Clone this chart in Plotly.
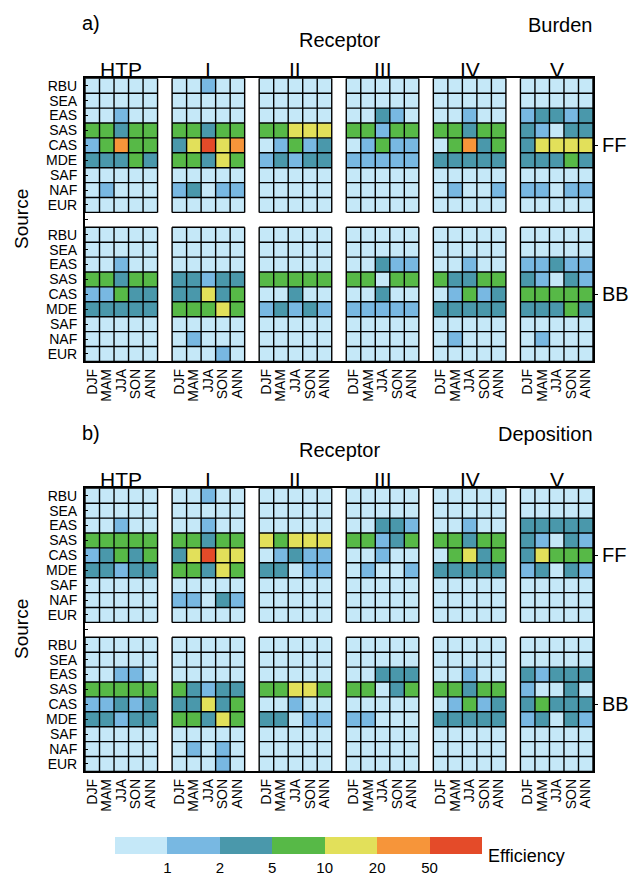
import numpy as np
import plotly.graph_objects as go

# ---------------- data ----------------
sources = ["RBU", "SEA", "EAS", "SAS", "CAS", "MDE", "SAF", "NAF", "EUR"]
receptors = ["HTP", "I", "II", "III", "IV", "V"]
seasons = ["DJF", "MAM", "JJA", "SON", "ANN"]
bounds = [1, 2, 5, 10, 20, 50]
bound_labels = ["1", "2", "5", "10", "20", "50"]
colors = ["#c5e8f8", "#78b8e2", "#4a98ab", "#57b947", "#e2e05a", "#f6953a", "#e44b29"]
# typical efficiency of each colour class
class_values = [0.5, 1.5, 3.0, 7.0, 15.0, 30.0, 70.0]

# each string: 6 receptor groups (HTP, I, II, III, IV, V) x 5 seasons, colour class per cell
burden_ff = [
    "00000 00100 00000 00000 00000 00000",  # RBU
    "00000 00000 00000 00000 00000 00000",  # SEA
    "00100 00000 00000 00210 00100 12212",  # EAS
    "33233 33233 33444 33133 33233 21022",  # SAS
    "13533 24645 01312 01311 03523 24444",  # CAS
    "22232 33243 12122 11111 22222 22232",  # MDE
    "00000 00000 00000 00000 00000 00000",  # SAF
    "01000 12011 00000 00000 01001 11011",  # NAF
    "00000 00000 00000 00000 00000 00000",  # EUR
]
burden_bb = [
    "00000 00000 00000 00000 00000 00000",
    "00000 00000 00000 00000 00000 00000",
    "00100 00000 00000 00211 00100 11211",
    "33233 22122 33333 33033 32233 21021",
    "11322 22423 00200 00200 01312 33333",
    "22222 33343 12121 11111 22222 22232",
    "00000 00000 00000 00000 00000 00000",
    "00000 01000 00000 00000 01000 01000",
    "00000 00010 00000 00000 00000 00000",
]
deposition_ff = [
    "00000 00100 00000 00000 00000 00000",
    "00000 00000 00000 00000 00000 00000",
    "00100 00100 00000 00221 00100 22222",
    "33333 33233 43444 33123 33233 21021",
    "12323 24644 01211 00100 03423 24333",
    "22122 33243 22011 01001 22222 12021",
    "00000 00000 00000 00000 00000 00000",
    "00000 11021 00000 00000 00000 00000",
    "00000 00000 00000 00000 00000 00000",
]
deposition_bb = [
    "00000 00000 00000 00000 00000 00000",
    "00000 00000 00000 00000 00000 00000",
    "00110 00000 00000 00222 00100 21222",
    "33333 32122 33443 33023 33233 10020",
    "11212 22423 00100 00000 01312 23222",
    "22122 33243 22011 11000 22222 12021",
    "00000 00000 00000 00000 00000 00000",
    "00000 01010 00000 00000 00000 00000",
    "00000 00010 00000 00000 00000 00000",
]

# ---------------- helpers ----------------
NS = len(sources)
NSEA = len(seasons)
NG = len(receptors)
NCOL = NG * (NSEA + 1) - 1
NROW = 2 * NS + 1
FONT = "Liberation Sans, Arial, sans-serif"


def efficiency(rows):
    return [[class_values[int(ch)] for ch in r.replace(" ", "")] for r in rows]


def build_z(ff, bb):
    z = [[None] * NCOL for _ in range(NROW)]
    for half, rows in enumerate([ff, bb]):
        for i, vals in enumerate(efficiency(rows)):
            r = half * (NS + 1) + i
            for g in range(NG):
                for s in range(NSEA):
                    v = vals[g * NSEA + s]
                    z[r][g * (NSEA + 1) + s] = int(np.digitize(v, bounds)) + 0.5
    return z


def grid_xy():
    xs, ys = [], []
    for half in range(2):
        r0 = half * (NS + 1)
        for g in range(NG):
            c0 = g * (NSEA + 1)
            for k in range(NSEA + 1):
                xs += [c0 - 0.5 + k, c0 - 0.5 + k, None]
                ys += [r0 - 0.5, r0 + NS - 0.5, None]
            for k in range(NS + 1):
                xs += [c0 - 0.5, c0 + NSEA - 0.5, None]
                ys += [r0 - 0.5 + k, r0 - 0.5 + k, None]
    return xs, ys


colorscale = []
for i, c in enumerate(colors):
    colorscale += [[i / len(colors), c], [(i + 1) / len(colors), c]]

W, H = 633, 876
x_left, x_right = 85, 593
panels = [
    dict(ff=burden_ff, bb=burden_bb, top=78.3, tag="a)", name="Burden"),
    dict(ff=deposition_ff, bb=deposition_bb, top=488.3, tag="b)", name="Deposition"),
]
row_h = 14.9
cb_top, cb_bottom = 837.0, 853.5

fig = go.Figure()
annotations = []
layout_axes = {}

col_x = list(range(NCOL))
row_y = list(range(NROW))
season_ticks = [g * (NSEA + 1) + s for g in range(NG) for s in range(NSEA)]
season_text = [seasons[s] for g in range(NG) for s in range(NSEA)]
row_text = sources + [""] + sources

for p, pan in enumerate(panels):
    xa = "x" if p == 0 else "x2"
    ya = "y" if p == 0 else "y2"
    yr = "y3" if p == 0 else "y4"
    top = pan["top"]
    bottom = top + NROW * row_h
    dom_y = [1 - bottom / H, 1 - top / H]

    fig.add_trace(go.Heatmap(
        z=build_z(pan["ff"], pan["bb"]), x=col_x, y=row_y,
        xaxis=xa, yaxis=ya, zmin=0, zmax=len(colors),
        colorscale=colorscale, hoverinfo="skip",
        showscale=(p == 0),
        colorbar=dict(
            orientation="h", x=115 / W, xanchor="left",
            y=1 - cb_top / H, yanchor="top",
            len=(481.7 - 115) / W, lenmode="fraction",
            thickness=cb_bottom - cb_top, thicknessmode="pixels",
            xpad=0, ypad=0, outlinewidth=0,
            tickmode="array", tickvals=list(range(1, len(colors))),
            ticktext=bound_labels, ticks="",
            tickfont=dict(size=15, family=FONT, color="black"),
        ),
    ))
    gx, gy = grid_xy()
    fig.add_trace(go.Scatter(x=gx, y=gy, mode="lines", xaxis=xa, yaxis=ya,
                             line=dict(color="black", width=1.4),
                             hoverinfo="skip", showlegend=False))
    fig.add_trace(go.Scatter(x=[0], y=[4], mode="markers", xaxis=xa, yaxis=yr,
                             marker=dict(opacity=0), hoverinfo="skip",
                             showlegend=False))

    xkey = "xaxis" if p == 0 else "xaxis2"
    ykey = "yaxis" if p == 0 else "yaxis2"
    yrkey = "yaxis3" if p == 0 else "yaxis4"
    layout_axes[xkey] = dict(
        domain=[x_left / W, x_right / W], range=[-0.5, NCOL - 0.5], anchor=ya,
        tickmode="array", tickvals=season_ticks, ticktext=season_text,
        tickangle=-90, ticks="", showgrid=False, zeroline=False,
        showline=True, mirror=True, linecolor="black", linewidth=2,
        tickfont=dict(size=14, family=FONT, color="black"),
    )
    layout_axes[ykey] = dict(
        domain=dom_y, range=[NROW - 0.5, -0.5], anchor=xa,
        tickmode="array", tickvals=row_y, ticktext=row_text,
        ticks="inside", ticklen=3, tickwidth=1, tickcolor="black",
        ticklabelstandoff=3,
        showgrid=False, zeroline=False,
        showline=True, mirror=True, linecolor="black", linewidth=2,
        tickfont=dict(size=14, family=FONT, color="black"),
    )
    layout_axes[yrkey] = dict(
        domain=dom_y, range=[NROW - 0.5, -0.5], anchor=xa, overlaying=ya,
        side="right", tickmode="array", tickvals=[4, NS + 1 + 4],
        ticktext=["FF", "BB"], ticks="outside", ticklen=4, tickcolor="black",
        showgrid=False, zeroline=False, showline=False,
        tickfont=dict(size=20, family=FONT, color="black"),
    )

    off = top - 78.3
    annotations += [
        dict(text=pan["tag"], x=80 / W, y=1 - (22.5 + off) / H, xref="paper",
             yref="paper", xanchor="left", yanchor="middle", showarrow=False,
             font=dict(size=20, family=FONT, color="black")),
        dict(text=pan["name"], x=595 / W, y=1 - (24.5 + off) / H, xref="paper",
             yref="paper", xanchor="right", yanchor="middle", showarrow=False,
             font=dict(size=20, family=FONT, color="black")),
        dict(text="Receptor", x=(x_left + x_right) / 2 / W, y=1 - (40.1 + off) / H,
             xref="paper", yref="paper", xanchor="center", yanchor="middle",
             showarrow=False, font=dict(size=20, family=FONT, color="black")),
        dict(text="Source", x=21 / W, y=1 - (219 + off) / H, xref="paper",
             yref="paper", xanchor="center", yanchor="middle", textangle=-90,
             showarrow=False, font=dict(size=19, family=FONT, color="black")),
    ]
    for g, rname in enumerate(receptors):
        annotations.append(dict(
            text=rname, x=g * (NSEA + 1) + (NSEA - 1) / 2, xref=xa,
            y=1 - (69.1 + off) / H, yref="paper", xanchor="center",
            yanchor="middle", showarrow=False,
            font=dict(size=21, family=FONT, color="black")))

annotations.append(dict(
    text="Efficiency", x=486 / W, y=1 - 856 / H, xref="paper", yref="paper",
    xanchor="left", yanchor="middle", showarrow=False,
    font=dict(size=18, family=FONT, color="black")))

fig.update_layout(
    width=W, height=H, autosize=False,
    margin=dict(l=0, r=0, t=0, b=0),
    paper_bgcolor="white", plot_bgcolor="white",
    showlegend=False,
    font=dict(family=FONT, color="black"),
    annotations=annotations,
    **layout_axes,
)

fig.write_html("out.html")
